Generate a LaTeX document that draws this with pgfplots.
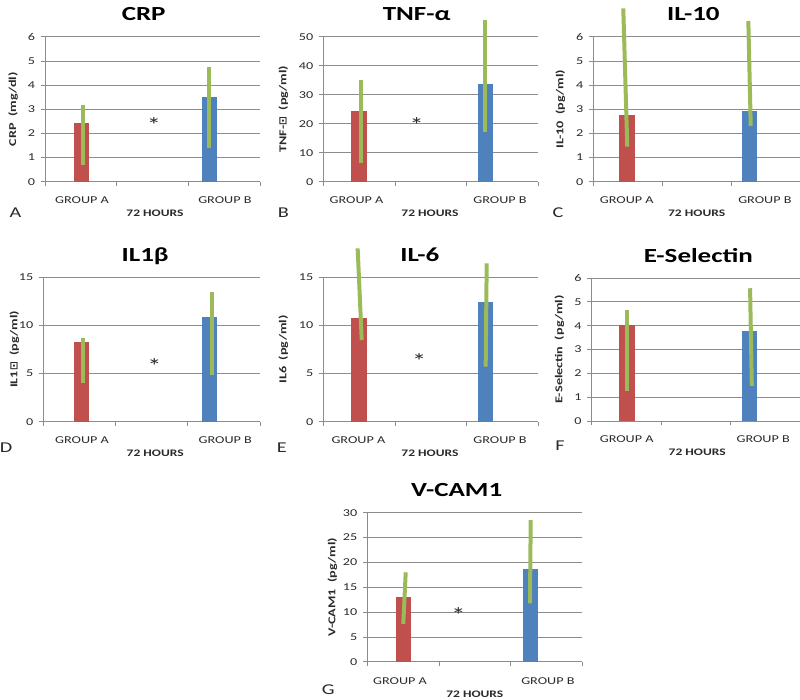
\documentclass[border=0pt]{standalone}
\usepackage{fontspec}
\setmainfont{Carlito}[FakeStretch=1.35]
\newfontfamily\djv{DejaVu Sans}
\usepackage{pgfplots}
\pgfplotsset{compat=1.18}
\definecolor{barred}{HTML}{C0504D}
\definecolor{barblue}{HTML}{4F81BD}
\definecolor{lgreen}{HTML}{9BBB59}
\definecolor{gridc}{HTML}{8C8C8C}
\definecolor{txt}{HTML}{2A2A2A}
\pgfplotsset{
 panel/.style={
  scale only axis, anchor=south west, clip=false,
  xmin=0, xmax=3, ymin=0,
  axis x line*=bottom, axis y line*=left,
  axis line style={draw=gridc, line width=0.7pt, -},
  xtick={0,1,2,3}, xticklabels={},
  tick align=outside, major tick length=4.5pt,
  major tick style={draw=gridc, line width=0.7pt},
  ymajorgrids, major grid style={draw=gridc, line width=0.7pt},
  yticklabel style={font=\fontsize{10.5}{12}\selectfont, text=txt, xshift=-2pt},
  /pgf/number format/assume math mode=true,
 },
 redbar/.style={ybar, bar width=15.5pt, bar shift=0pt, fill=barred, draw=none},
 bluebar/.style={ybar, bar width=15pt, bar shift=0pt, fill=barblue, draw=none},
 err/.style={draw=lgreen, line width=4pt},
}
\tikzset{astk/.style={font=\fontsize{21}{24}\selectfont, text=txt, yshift=-4pt}}
\newcommand{\titl}[2]{\node[font=\bfseries\fontsize{20}{24}\selectfont, anchor=base, yshift=16pt] at (rel axis cs:#1,1) {#2};}
\newcommand{\ylab}[2]{\path (rel axis cs:0,0.5) ++(-#1pt,0) node[rotate=90, font=\bfseries\fontsize{10.5}{12}\selectfont, text=txt] {#2};}
\newcommand{\grp}[5]{%
 \node[font=\fontsize{10.5}{12}\selectfont, text=txt, yshift=-#4pt] at (axis cs:#1,0) {GROUP A};
 \node[font=\fontsize{10.5}{12}\selectfont, text=txt, yshift=-#4pt] at (axis cs:#2,0) {GROUP B};
 \node[font=\bfseries\fontsize{10}{12}\selectfont, text=txt, yshift=-#5pt] at (axis cs:#3,0) {72 HOURS};}
\newcommand{\letr}[3]{\path (rel axis cs:0,0) ++(-#1pt,-#2pt) node[font=\fontsize{15}{18}\selectfont, text=txt] {#3};}
\begin{document}
\begin{tikzpicture}
\useasboundingbox (0,0) rectangle (800pt,699pt);
% ---------- A: CRP
\begin{axis}[panel, at={(45pt,517.3pt)}, width=215pt, height=145pt, ymax=6, ytick={0,1,...,6}]
\addplot[redbar] coordinates {(0.512,2.41)};
\addplot[bluebar] coordinates {(2.294,3.51)};
\addplot[err] coordinates {(0.534,0.69) (0.534,3.17)};
\addplot[err] coordinates {(2.292,1.38) (2.292,4.75)};
\node[astk] at (axis cs:1.52,2.5) {*};
\titl{0.459}{CRP}
\ylab{32}{CRP\ \ (mg/dl)}
\grp{0.516}{2.51}{1.535}{18.3}{31.6}
\letr{29.5}{30.6}{A}
\end{axis}
% ---------- B: TNF
\begin{axis}[panel, at={(323.3pt,517.3pt)}, width=214.7pt, height=145pt, ymax=50, ytick={0,10,...,50}]
\addplot[redbar] coordinates {(0.497,24.4)};
\addplot[bluebar] coordinates {(2.27,33.6)};
\addplot[err] coordinates {(0.528,6.3) (0.528,35.1)};
\addplot[err] coordinates {(2.26,17.2) (2.26,55.8)};
\node[astk] at (axis cs:1.305,21) {*};
\titl{0.435}{TNF-α}
\ylab{40}{TNF-{\djv ⊡}\ \ (pg/ml)}
\grp{0.465}{2.47}{1.49}{18.3}{31.6}
\letr{40}{30.6}{B}
\end{axis}
% ---------- C: IL-10
\begin{axis}[panel, at={(593.3pt,517.3pt)}, width=206.7pt, height=145pt, ymax=6, ytick={0,1,...,6}]
\addplot[redbar] coordinates {(0.49,2.78)};
\addplot[bluebar] coordinates {(2.26,2.92)};
\addplot[err] coordinates {(0.435,7.17) (0.493,1.45)};
\addplot[err] coordinates {(2.25,6.65) (2.285,2.3)};
\titl{0.484}{IL-10}
\ylab{33}{IL-10\ \ (pg/ml)}
\grp{0.485}{2.49}{1.5}{18.3}{31.6}
\letr{35.3}{30.6}{C}
\end{axis}
% ---------- D: IL1b
\begin{axis}[panel, at={(43.3pt,277.3pt)}, width=216.7pt, height=144.4pt, ymax=15, ytick={0,5,10,15}]
\addplot[redbar] coordinates {(0.53,8.31)};
\addplot[bluebar] coordinates {(2.30,10.84)};
\addplot[err] coordinates {(0.554,3.99) (0.554,8.66)};
\addplot[err] coordinates {(2.33,4.85) (2.33,13.44)};
\node[astk] at (axis cs:1.54,6.2) {*};
\titl{0.47}{IL1β}
\ylab{29}{IL1{\djv ⊡}\ \ (pg/ml)}
\grp{0.536}{2.52}{1.55}{18.3}{31.6}
\letr{37.3}{26}{D}
\end{axis}
% ---------- E: IL-6
\begin{axis}[panel, at={(323.3pt,277.3pt)}, width=214.7pt, height=144.4pt, ymax=15, ytick={0,5,10,15}]
\addplot[redbar] coordinates {(0.497,10.74)};
\addplot[bluebar] coordinates {(2.27,12.46)};
\addplot[err] coordinates {(0.48,18.0) (0.537,8.48)};
\addplot[err] coordinates {(2.283,16.45) (2.269,5.71)};
\node[astk] at (axis cs:1.34,6.7) {*};
\titl{0.45}{IL-6}
\ylab{40}{IL6\ \ (pg/ml)}
\grp{0.49}{2.47}{1.49}{18.3}{31.6}
\letr{41.6}{26}{E}
\end{axis}
% ---------- F: E-Selectin
\begin{axis}[panel, at={(591.7pt,278pt)}, width=208.3pt, height=143pt, ymax=6, ytick={0,1,...,6}]
\addplot[redbar] coordinates {(0.509,4.03)};
\addplot[bluebar] coordinates {(2.27,3.79)};
\addplot[err] coordinates {(0.513,1.27) (0.513,4.66)};
\addplot[err] coordinates {(2.281,5.57) (2.306,1.47)};
\titl{0.512}{E-Selectin}
\ylab{32.4}{E-Selectin\ \ (pg/ml)}
\grp{0.504}{2.47}{1.52}{18.3}{31.6}
\letr{31.7}{25}{F}
\end{axis}
% ---------- G: V-CAM1
\begin{axis}[panel, at={(367.3pt,37.3pt)}, width=215pt, height=149pt, ymax=30, ytick={0,5,...,30}]
\addplot[redbar] coordinates {(0.508,13.09)};
\addplot[bluebar] coordinates {(2.28,18.66)};
\addplot[err] coordinates {(0.536,18.0) (0.502,7.59)};
\addplot[err] coordinates {(2.28,28.5) (2.27,11.76)};
\node[astk] at (axis cs:1.27,10.3) {*};
\titl{0.416}{V-CAM1}
\ylab{35}{V-CAM1\ \ (pg/ml)}
\grp{0.456}{2.52}{1.5}{19.3}{32.6}
\letr{39}{28.3}{G}
\end{axis}
\end{tikzpicture}
\end{document}
